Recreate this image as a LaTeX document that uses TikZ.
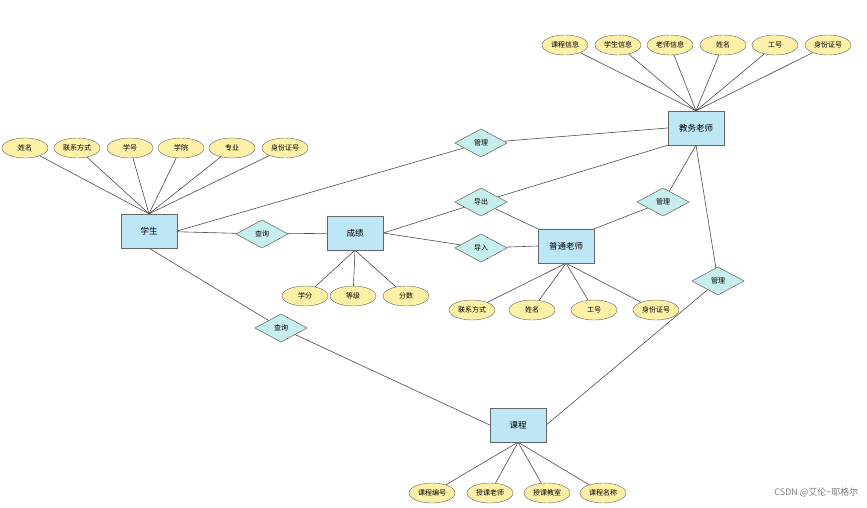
\documentclass[tikz,border=0pt]{standalone}
\usepackage{fontspec}
\setmainfont{Noto Sans CJK SC}
\usetikzlibrary{shapes.geometric}
\definecolor{attrfill}{HTML}{FCEFA6}
\definecolor{entfill}{HTML}{BDE6F6}
\definecolor{relfill}{HTML}{C6EEEC}
\tikzset{
  attr/.style={ellipse,draw=gray!80!black,fill=attrfill,minimum width=46pt,minimum height=20pt,inner sep=0pt,font=\fontsize{7}{8}\selectfont},
  ent/.style={rectangle,draw=gray!80!black,fill=entfill,minimum width=56pt,minimum height=34pt,font=\fontsize{8.5}{9}\selectfont},
  rel/.style={diamond,draw=gray!80!black,fill=relfill,minimum width=52pt,minimum height=28pt,aspect=2,inner sep=0pt,font=\fontsize{7}{8}\selectfont},
  link/.style={draw=gray!60!black,line width=0.6pt}
}
\begin{document}
\begin{tikzpicture}[x=1pt,y=-1pt]
 \useasboundingbox (0,0) rectangle (867,507);
 % entities
 \node[ent] (jw) at (696,128) {教务老师};
 \node[ent] (xs) at (149,231) {学生};
 \node[ent] (cj) at (355,233) {成绩};
 \node[ent] (pt) at (566,246) {普通老师};
 \node[ent] (kc) at (518,425) {课程};
 % relations
 \node[rel] (gl1) at (481,143) {管理};
 \node[rel] (cx1) at (262,234) {查询};
 \node[rel] (dc) at (481,202) {导出};
 \node[rel] (dr) at (481,248) {导入};
 \node[rel] (gl2) at (663,202) {管理};
 \node[rel] (gl3) at (718,281) {管理};
 \node[rel] (cx2) at (281,328) {查询};
 % attributes
 \node[attr] (j1) at (565,45) {课程信息};
 \node[attr] (j2) at (618,45) {学生信息};
 \node[attr] (j3) at (670,45) {老师信息};
 \node[attr] (j4) at (723,45) {姓名};
 \node[attr] (j5) at (775,45) {工号};
 \node[attr] (j6) at (828,45) {身份证号};
 \node[attr] (s1) at (25,148) {姓名};
 \node[attr] (s2) at (77,148) {联系方式};
 \node[attr] (s3) at (130,148) {学号};
 \node[attr] (s4) at (181,148) {学院};
 \node[attr] (s5) at (232,148) {专业};
 \node[attr] (s6) at (285,148) {身份证号};
 \node[attr] (c1) at (305,296) {学分};
 \node[attr] (c2) at (353,296) {等级};
 \node[attr] (c3) at (406,296) {分数};
 \node[attr] (p1) at (472,310) {联系方式};
 \node[attr] (p2) at (532,310) {姓名};
 \node[attr] (p3) at (594,310) {工号};
 \node[attr] (p4) at (656,310) {身份证号};
 \node[attr] (k1) at (432,493) {课程编号};
 \node[attr] (k2) at (490,493) {授课老师};
 \node[attr] (k3) at (547,493) {授课教室};
 \node[attr] (k4) at (603,493) {课程名称};
 % connectors
 \begin{scope}[on background layer/.style={}]
 \foreach \a in {j1,j2,j3,j4,j5,j6} \draw[link] (jw.north) -- (\a);
 \foreach \a in {s1,s2,s3,s4,s5,s6} \draw[link] (xs.north) -- (\a);
 \foreach \a in {c1,c2,c3} \draw[link] (cj.south) -- (\a);
 \foreach \a in {p1,p2,p3,p4} \draw[link] (pt.south) -- (\a);
 \foreach \a in {k1,k2,k3,k4} \draw[link] (kc.south) -- (\a);
 \end{scope}
 \draw[link] (xs.east) -- (gl1) -- (jw.west);
 \draw[link] (xs) -- (cx1) -- (cj);
 \draw[link] (cj.east) -- (dc) -- (pt.north west);
 \draw[link] (jw.south west) -- (dc);
 \draw[link] (cj.east) -- (dr) -- (pt.west);
 \draw[link] (jw.south) -- (gl2) -- (pt.north east);
 \draw[link] (jw.south) -- (gl3) -- (kc.east);
 \draw[link] (xs.south) -- (cx2) -- (kc.west);
 % redraw nodes on top
 \foreach \n/\t in {jw/教务老师,xs/学生,cj/成绩,pt/普通老师,kc/课程}
   \node[ent] at (\n) {\t};
 \foreach \n/\t in {gl1/管理,cx1/查询,dc/导出,dr/导入,gl2/管理,gl3/管理,cx2/查询}
   \node[rel] at (\n) {\t};
 \node[anchor=east,text=gray,font=\fontsize{9}{10}\selectfont] (wm) at (862,492) {CSDN @艾伦\textasciitilde 耶格尔};
\end{tikzpicture}
\end{document}
